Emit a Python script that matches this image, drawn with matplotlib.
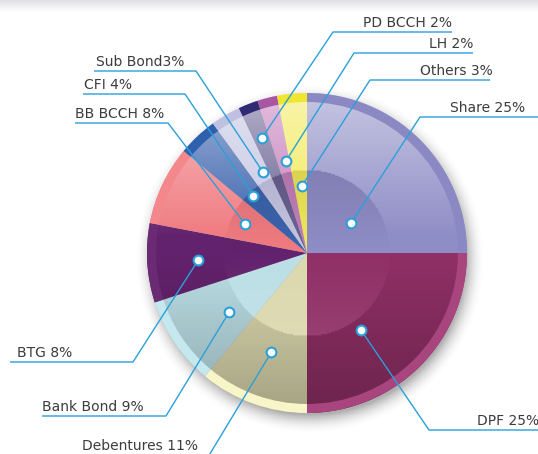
import numpy as np
import matplotlib
matplotlib.use("Agg")
import matplotlib.pyplot as plt
from matplotlib.patches import Circle

# ---- data ----
labels = ["Share 25%", "DPF 25%", "Debentures 11%", "Bank Bond 9%", "BTG 8%",
          "BB BCCH 8%", "CFI 4%", "Sub Bond3%", "PD BCCH 2%", "LH 2%", "Others 3%"]
values = [25, 25, 11, 9, 8, 8, 4, 3, 2, 2, 3]

# ---- style ----
colors = ["#8f8dc6", "#903066", "#dcd8ae", "#bcdfe6", "#63226d",
          "#f07b81", "#3c64ae", "#c6c6e4", "#6a6294", "#c57fbc", "#f2ea5a"]
rim_colors = ["#8b89c3", "#a8457e", "#f8f5c8", "#c5e7ee", "#6a2a74",
              "#f4878c", "#2f60ae", "#c0c0e2", "#302a74", "#a855a2", "#f0e630"]
line_color = "#2aa0da"
text_color = "#3c3c3c"

W, H = 538, 454
cx, cy = 307, H - 253
R = 160
rim = 9

# leader layout (image pixel coords): dot radius frac, angle offset,
# knee x, underline y, far x, text x, text alignment
layout = [
    (0.33, -11, 420, 117, 545, 525, "right"),
    (0.59, -10, 429, 430, 545, 539, "right"),
    (0.66, 0, 205, 462, 205, 82, "left"),
    (0.61, 3, 166, 416, 42, 42, "left"),
    (0.68, 0, 133, 362, 10, 17, "left"),
    (0.43, 0, 168, 123, 75, 75, "left"),
    (0.49, 0, 185, 94, 83, 84, "left"),
    (0.58, -2, 196, 71, 94, 96, "left"),
    (0.77, 0, 333, 32, 452, 452, "right"),
    (0.59, -1.5, 354, 53, 473, 473, "right"),
    (0.42, -1, 370, 80, 490, 493, "right"),
]

fig = plt.figure(figsize=(W / 100, H / 100), dpi=100)
ax = fig.add_axes([0, 0, 1, 1])

# top grey band
band = np.ones((20, 2, 4))
g = np.linspace(0.88, 1.0, 20)[:, None]
band[..., 0] = g
band[..., 1] = g
band[..., 2] = np.clip(g + 0.01, 0, 1)
ax.imshow(band, extent=(0, W, H - 12, H), aspect="auto", zorder=0)

# soft shadow
xs = np.linspace(cx - R - 30, cx + R + 30, 300)
ys = np.linspace(cy - R - 30, cy + R + 30, 300)
X, Y = np.meshgrid(xs, ys)
d = np.hypot(X - (cx + 3), Y - (cy - 6))
sh = np.zeros(X.shape + (4,))
sh[..., :3] = 0.3
sh[..., 3] = 0.45 * np.clip((R + 16 - d) / 20, 0, 1) ** 2
ax.imshow(sh, extent=(xs[0], xs[-1], ys[0], ys[-1]), origin="lower", zorder=1)

# base wedges
ax.pie(values, colors=colors, startangle=90, counterclock=False,
       center=(cx, cy), radius=R, wedgeprops=dict(linewidth=0, zorder=2))

# lighting overlay: light on top, dark at bottom; inverted inside the inner disc
t = (cy + R - Y) / (2 * R)
ov = np.zeros(X.shape + (4,))
white = 0.5 * np.clip(1 - t / 0.45, 0, 1)
black = 0.25 * np.clip((t - 0.5) / 0.5, 0, 1)
dd = np.hypot(X - cx, Y - cy)
inner = dd < 0.52 * R
ti = (cy + 0.52 * R - Y) / (1.04 * R)
ov[..., :3] = np.where(white[..., None] > 0, 1.0, 0.0)
ov[..., 3] = np.where(white > 0, white, black)
ov[inner, :3] = np.where((ti[inner] > 0.5)[:, None], 1.0, 0.0)
ov[inner, 3] = np.where(ti[inner] > 0.5, 0.07 * (ti[inner] - 0.5) / 0.5,
                        0.1 * (0.5 - ti[inner]) / 0.5)
im = ax.imshow(ov, extent=(xs[0], xs[-1], ys[0], ys[-1]), origin="lower", zorder=3)
im.set_clip_path(Circle((cx, cy), R, transform=ax.transData))

# outer rim
ax.pie(values, colors=rim_colors, startangle=90, counterclock=False,
       center=(cx, cy), radius=R, wedgeprops=dict(width=rim, linewidth=0, zorder=4))

# leaders, dots and labels
start = 90.0
cum = 0.0
for lab, v, (rf, off, kx, ly, fx, tx, ha) in zip(labels, values, layout):
    mid = np.deg2rad(start - 360 * (cum + v / 2) / sum(values) + off)
    cum += v
    px = cx + rf * R * np.cos(mid)
    py = cy + rf * R * np.sin(mid)
    ax.plot([px, kx, fx], [py, H - ly, H - ly], color=line_color, lw=1.0,
            zorder=5, solid_capstyle="butt")
    ax.plot(px, py, "o", ms=7, mfc="white", mec=line_color, mew=1.5, zorder=6)
    base = 450 if lab.startswith("Debentures") else ly - 5
    ax.text(tx, H - base, lab, ha=ha, va="baseline", fontsize=10,
            color=text_color, zorder=7)

ax.set_xlim(0, W)
ax.set_ylim(0, H)
ax.set_aspect("auto")
ax.axis("off")
fig.savefig("out.png", dpi=100)
